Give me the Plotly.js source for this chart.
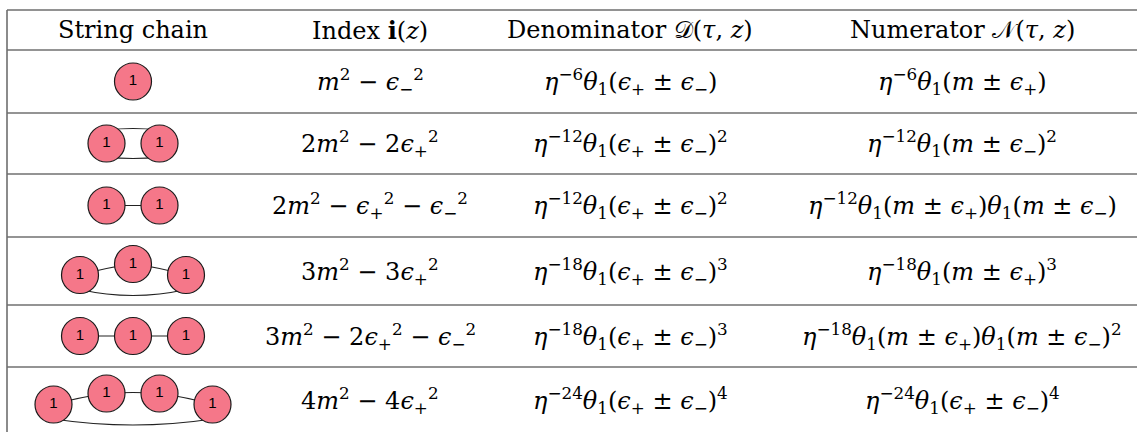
<!DOCTYPE html>
<html>
<head>
<meta charset="utf-8">
<script src="https://cdn.plot.ly/plotly-3.0.1.min.js"></script>
<style>
  html, body { margin: 0; padding: 0; background: #fff; }
  #chart { width: 1137px; height: 432px; }
</style>
</head>
<body>
<div id="chart"></div>
<script>
/****************************************************
 * Table contents
 ****************************************************/
const headers = [
  "String chain",
  "Index <b>i</b>(<i>z</i>)",
  "Denominator 𝒟(<i>τ</i>, <i>z</i>)",
  "Numerator 𝒩(<i>τ</i>, <i>z</i>)"
];

// string chains: number of nodes, and whether the chain closes on itself
const chainSizes = [1, 2, 2, 3, 3, 4];
const chainClosed = [false, true, false, true, false, true];
const nodeLabel = "1";

const indexCol = [
  "<i>m</i><sup>2</sup> − <i>ϵ</i><sub>−</sub><sup>2</sup>",
  "2<i>m</i><sup>2</sup> − 2<i>ϵ</i><sub>+</sub><sup>2</sup>",
  "2<i>m</i><sup>2</sup> − <i>ϵ</i><sub>+</sub><sup>2</sup> − <i>ϵ</i><sub>−</sub><sup>2</sup>",
  "3<i>m</i><sup>2</sup> − 3<i>ϵ</i><sub>+</sub><sup>2</sup>",
  "3<i>m</i><sup>2</sup> − 2<i>ϵ</i><sub>+</sub><sup>2</sup> − <i>ϵ</i><sub>−</sub><sup>2</sup>",
  "4<i>m</i><sup>2</sup> − 4<i>ϵ</i><sub>+</sub><sup>2</sup>"
];

const denomCol = [
  "<i>η</i><sup>−6</sup><i>θ</i><sub>1</sub>(<i>ϵ</i><sub>+</sub> ± <i>ϵ</i><sub>−</sub>)",
  "<i>η</i><sup>−12</sup><i>θ</i><sub>1</sub>(<i>ϵ</i><sub>+</sub> ± <i>ϵ</i><sub>−</sub>)<sup>2</sup>",
  "<i>η</i><sup>−12</sup><i>θ</i><sub>1</sub>(<i>ϵ</i><sub>+</sub> ± <i>ϵ</i><sub>−</sub>)<sup>2</sup>",
  "<i>η</i><sup>−18</sup><i>θ</i><sub>1</sub>(<i>ϵ</i><sub>+</sub> ± <i>ϵ</i><sub>−</sub>)<sup>3</sup>",
  "<i>η</i><sup>−18</sup><i>θ</i><sub>1</sub>(<i>ϵ</i><sub>+</sub> ± <i>ϵ</i><sub>−</sub>)<sup>3</sup>",
  "<i>η</i><sup>−24</sup><i>θ</i><sub>1</sub>(<i>ϵ</i><sub>+</sub> ± <i>ϵ</i><sub>−</sub>)<sup>4</sup>"
];

const numerCol = [
  "<i>η</i><sup>−6</sup><i>θ</i><sub>1</sub>(<i>m</i> ± <i>ϵ</i><sub>+</sub>)",
  "<i>η</i><sup>−12</sup><i>θ</i><sub>1</sub>(<i>m</i> ± <i>ϵ</i><sub>−</sub>)<sup>2</sup>",
  "<i>η</i><sup>−12</sup><i>θ</i><sub>1</sub>(<i>m</i> ± <i>ϵ</i><sub>+</sub>)<i>θ</i><sub>1</sub>(<i>m</i> ± <i>ϵ</i><sub>−</sub>)",
  "<i>η</i><sup>−18</sup><i>θ</i><sub>1</sub>(<i>m</i> ± <i>ϵ</i><sub>+</sub>)<sup>3</sup>",
  "<i>η</i><sup>−18</sup><i>θ</i><sub>1</sub>(<i>m</i> ± <i>ϵ</i><sub>+</sub>)<i>θ</i><sub>1</sub>(<i>m</i> ± <i>ϵ</i><sub>−</sub>)<sup>2</sup>",
  "<i>η</i><sup>−24</sup><i>θ</i><sub>1</sub>(<i>ϵ</i><sub>+</sub> ± <i>ϵ</i><sub>−</sub>)<sup>4</sup>"
];

/****************************************************
 * Page geometry (pixel-like axis units)
 ****************************************************/
const W = 1137, H = 432;
const colCenters = [133, 370, 630, 962];
const rowEdges = [10, 50, 113, 174, 237, 305, 367, 434];
const leftEdge = 7;
const nodeGap = 53;     // horizontal distance between nodes
const nodeSize = 37;    // marker diameter
const lift = 11;        // inner nodes of a closed chain sit higher

const FONT = "DejaVu Serif";
const rowMid = i => (rowEdges[i + 1] + rowEdges[i + 2]) / 2;

/****************************************************
 * Grid lines
 ****************************************************/
const shapes = [];
rowEdges.slice(0, -1).forEach((y, i) => {
  shapes.push({
    type: "line", xref: "x", yref: "y",
    x0: leftEdge, x1: W, y0: y, y1: y,
    line: { color: i === 0 ? "#6e6e6e" : "#2a2a2a", width: i === 0 ? 1.6 : 1.2 },
    layer: "below"
  });
});
shapes.push({
  type: "line", xref: "x", yref: "y",
  x0: leftEdge, x1: leftEdge, y0: rowEdges[0], y1: H,
  line: { color: "#6e6e6e", width: 1.6 }, layer: "below"
});

/****************************************************
 * String chain diagrams
 ****************************************************/
const nodeX = [], nodeY = [], nodeText = [];
const edge = { color: "#222", width: 1.1 };

chainSizes.forEach((n, r) => {
  const cy = rowMid(r);
  const xs = [], ys = [];
  for (let k = 0; k < n; k++) {
    xs.push(colCenters[0] + (k - (n - 1) / 2) * nodeGap);
    const inner = chainClosed[r] && n > 2 && k > 0 && k < n - 1;
    ys.push(chainClosed[r] && n > 2 ? cy + (inner ? -lift + 4 : 4) : cy);
  }
  xs.forEach((x, k) => { nodeX.push(x); nodeY.push(ys[k]); nodeText.push(nodeLabel); });

  if (n === 1) return;

  if (chainClosed[r] && n === 2) {
    // two arcs joining the pair, one above and one below
    const h = nodeSize / 2 - 5;
    [-1, 1].forEach(s => {
      const y = cy + s * h;
      shapes.push({
        type: "path", layer: "below", line: edge,
        path: `M ${xs[0]},${y} Q ${(xs[0] + xs[1]) / 2},${y + s * 3} ${xs[1]},${y}`
      });
    });
    return;
  }

  // links between neighbours
  for (let k = 0; k < n - 1; k++) {
    const mx = (xs[k] + xs[k + 1]) / 2, my = (ys[k] + ys[k + 1]) / 2;
    shapes.push({
      type: "path", layer: "below", line: edge,
      path: `M ${xs[k]},${ys[k]} Q ${mx},${my - (chainClosed[r] ? 2 : 0)} ${xs[k + 1]},${ys[k + 1]}`
    });
  }

  // closing arc along the bottom
  if (chainClosed[r]) {
    const y0 = ys[0] + nodeSize / 2 - 4;
    const y1 = ys[n - 1] + nodeSize / 2 - 4;
    shapes.push({
      type: "path", layer: "below", line: edge,
      path: `M ${xs[0]},${y0} Q ${(xs[0] + xs[n - 1]) / 2},${y0 + 12} ${xs[n - 1]},${y1}`
    });
  }
});

const nodes = {
  x: nodeX, y: nodeY, text: nodeText,
  mode: "markers+text",
  type: "scatter",
  hoverinfo: "skip",
  marker: { size: nodeSize, color: "#f57789", line: { color: "#1a1a1a", width: 1.2 } },
  textposition: "middle center",
  textfont: { family: "Liberation Sans, Arial, sans-serif", size: 15, color: "#000" }
};

/****************************************************
 * Text cells
 ****************************************************/
const annotations = [];
const cell = (text, x, y) => annotations.push({
  x: x, y: y, xref: "x", yref: "y", text: text, showarrow: false,
  xanchor: "center", yanchor: "middle",
  font: { family: FONT, size: 24, color: "#000" }
});

headers.forEach((h, c) => cell(h, colCenters[c], (rowEdges[0] + rowEdges[1]) / 2));
[indexCol, denomCol, numerCol].forEach((col, c) => {
  col.forEach((t, r) => cell(t, colCenters[c + 1], rowMid(r)));
});

const layout = {
  width: W, height: H,
  margin: { l: 0, r: 0, t: 0, b: 0 },
  paper_bgcolor: "#fff", plot_bgcolor: "#fff",
  font: { family: FONT },
  showlegend: false,
  xaxis: { range: [0, W], visible: false, fixedrange: true },
  yaxis: { range: [H, 0], visible: false, fixedrange: true },
  shapes: shapes,
  annotations: annotations
};

Plotly.newPlot("chart", [nodes], layout, { staticPlot: true });
</script>
</body>
</html>
